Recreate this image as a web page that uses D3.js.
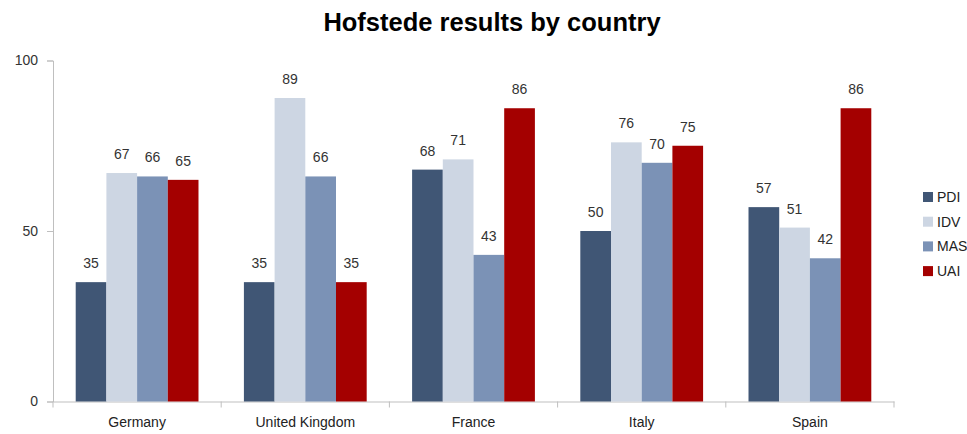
<!DOCTYPE html>
<html><head><meta charset="utf-8">
<script src="https://cdn.jsdelivr.net/npm/d3@7"></script>
<style>body{margin:0;background:#fff}svg{display:block}text{font-family:"Liberation Sans",Arial,sans-serif}</style>
</head><body>
<svg id="c" width="967" height="434"></svg>
<script>
const categories = ["Germany", "United Kingdom", "France", "Italy", "Spain"];
const seriesNames = ["PDI", "IDV", "MAS", "UAI"];
const PDI = [35, 35, 68, 50, 57];
const IDV = [67, 89, 71, 76, 51];
const MAS = [66, 66, 43, 70, 42];
const UAI = [65, 35, 86, 75, 86];
const yTicks = [0, 50, 100];
const colors = ["#405675", "#CDD6E3", "#7B92B6", "#A40000"];
const seriesValues = [PDI, IDV, MAS, UAI];

(function () {
const svg = d3.select("#c");
const pl = 53, pr = 894, pt = 60.5, pb = 401.5;

svg.append("text").attr("x", 492).attr("y", 31).attr("text-anchor", "middle")
  .attr("font-size", 25.5).attr("font-weight", "bold").attr("fill", "#000")
  .text("Hofstede results by country");

const x0 = d3.scaleBand().domain(categories).range([pl, pr]).paddingInner(0.27).paddingOuter(0.135);
const x1 = d3.scaleBand().domain(seriesNames).range([0, x0.bandwidth()]);
const y = d3.scaleLinear().domain([0, 100]).range([pb, pt]);

const yAxis = svg.append("g").attr("transform", `translate(${pl},0)`)
  .call(d3.axisLeft(y).tickValues(yTicks).tickSize(6).tickPadding(9));
yAxis.select(".domain").attr("stroke", "#BFBFBF");
yAxis.selectAll(".tick line").attr("stroke", "#BFBFBF");
yAxis.selectAll(".tick text").attr("font-size", 14).attr("fill", "#333")
  .attr("font-family", "Liberation Sans, Arial, sans-serif");

const xb = d3.scaleBand().domain(categories).range([pl, pr]);
const xAxis = svg.append("g").attr("transform", `translate(0,${pb})`)
  .call(d3.axisBottom(xb).tickSize(0).tickPadding(16));
xAxis.select(".domain").attr("stroke", "#BFBFBF");
xAxis.selectAll(".tick text").attr("font-size", 14).attr("fill", "#222")
  .attr("font-family", "Liberation Sans, Arial, sans-serif");
const bounds = categories.map(c => xb(c)).concat([pr]);
svg.append("g").selectAll("line").data(bounds).join("line")
  .attr("x1", d => d).attr("x2", d => d).attr("y1", pb).attr("y2", pb + 6)
  .attr("stroke", "#BFBFBF");

const groups = svg.append("g").selectAll("g").data(categories).join("g")
  .attr("transform", c => `translate(${x0(c)},0)`);
groups.each(function(c, ci) {
  const g = d3.select(this);
  seriesNames.forEach((s, si) => {
    const v = seriesValues[si][ci];
    g.append("rect").attr("x", x1(s)).attr("y", y(v))
      .attr("width", x1.bandwidth()).attr("height", y(0) - y(v))
      .attr("fill", colors[si]);
    g.append("text").attr("x", x1(s) + x1.bandwidth() / 2).attr("y", y(v) - 14)
      .attr("text-anchor", "middle").attr("font-size", 14).attr("fill", "#333").text(v);
  });
});

const lg = svg.append("g").selectAll("g").data(seriesNames).join("g")
  .attr("transform", (d, i) => `translate(923,${197 + i * 24.7})`);
lg.append("rect").attr("x", 0).attr("y", -5).attr("width", 10).attr("height", 10)
  .attr("fill", (d, i) => colors[i]);
lg.append("text").attr("x", 14).attr("y", 5).attr("font-size", 14).attr("fill", "#222").text(d => d);
})();
</script>
</body></html>
